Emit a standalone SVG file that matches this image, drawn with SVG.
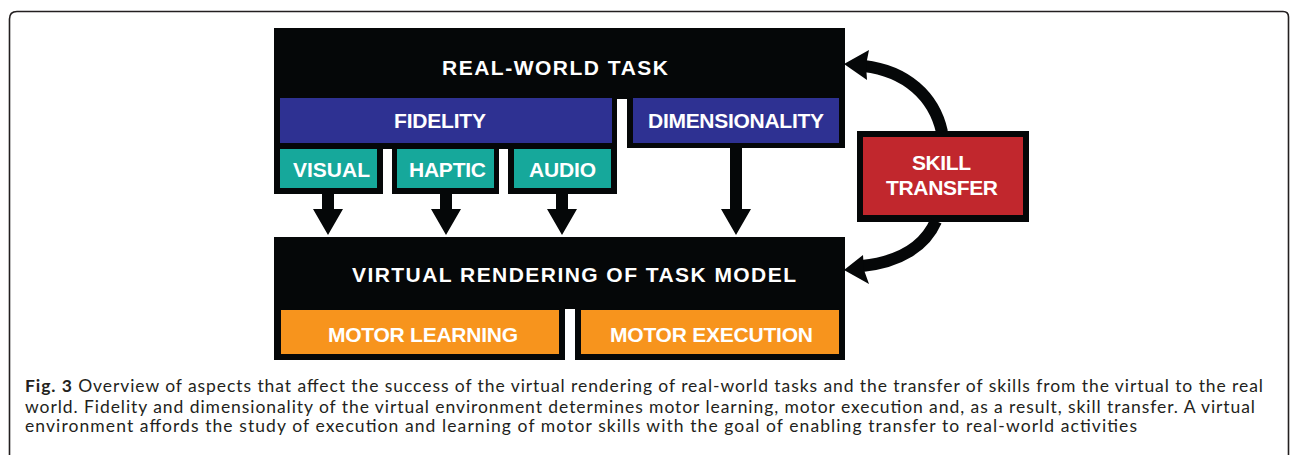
<svg xmlns="http://www.w3.org/2000/svg" width="1290" height="455" viewBox="0 0 1290 455">
  <style>
    .blk { fill: #050708; }
    .blue { fill: #2e3192; }
    .teal { fill: #16a89b; }
    .orange { fill: #f7941d; }
    .red { fill: #c1272d; }
    .lbl { font-family: "Liberation Sans", Arial, sans-serif; font-weight: bold; font-size: 21px; fill: #ffffff; }
    .cap { font-family: Lato, "Open Sans", "Liberation Sans", sans-serif; font-size: 17.5px; fill: #231f20; }
    .arrow { fill: #050708; }
    .curve { fill: none; stroke: #050708; stroke-width: 12; }
  </style>
  <rect width="1290" height="455" fill="#ffffff"/>
  <path d="M9.5,456 V19 Q9.5,11.5 17,11.5 H1283 Q1288.5,11.5 1288.5,17 V456" fill="none" stroke="#231f20" stroke-width="1.6"/>

  <g id="real-world-task">
    <rect class="blk" x="274" y="28" width="571" height="71"/>
    <text class="lbl" x="442" y="75" textLength="226" lengthAdjust="spacing">REAL-WORLD TASK</text>
  </g>
  <g id="fidelity">
    <rect class="blk" x="274" y="98" width="343" height="51"/>
    <rect class="blue" x="280" y="98" width="332" height="45"/>
    <text class="lbl" x="394" y="128" textLength="92" lengthAdjust="spacing">FIDELITY</text>
  </g>
  <g id="dimensionality">
    <rect class="blk" x="627" y="98" width="218" height="50"/>
    <rect class="blue" x="633" y="98" width="206" height="45"/>
    <text class="lbl" x="648" y="128" textLength="176" lengthAdjust="spacing">DIMENSIONALITY</text>
  </g>
  <g id="visual">
    <rect class="blk" x="274" y="148" width="109" height="46"/>
    <rect class="teal" x="280" y="149" width="97" height="39"/>
    <text class="lbl" x="293" y="177" textLength="77" lengthAdjust="spacing">VISUAL</text>
  </g>
  <g id="haptic">
    <rect class="blk" x="392" y="148" width="107" height="46"/>
    <rect class="teal" x="397" y="149" width="97" height="39"/>
    <text class="lbl" x="409" y="177" textLength="77" lengthAdjust="spacing">HAPTIC</text>
  </g>
  <g id="audio">
    <rect class="blk" x="508" y="148" width="109" height="46"/>
    <rect class="teal" x="514" y="149" width="97" height="39"/>
    <text class="lbl" x="529" y="177" textLength="67" lengthAdjust="spacing">AUDIO</text>
  </g>
  <g id="virtual-rendering">
    <rect class="blk" x="274" y="237" width="571" height="72"/>
    <text class="lbl" x="352" y="282" textLength="444" lengthAdjust="spacing">VIRTUAL RENDERING OF TASK MODEL</text>
  </g>
  <g id="motor-learning">
    <rect class="blk" x="274" y="308" width="291" height="52"/>
    <rect class="orange" x="281" y="310" width="278" height="44"/>
    <text class="lbl" x="328" y="342" textLength="190" lengthAdjust="spacing">MOTOR LEARNING</text>
  </g>
  <g id="motor-execution">
    <rect class="blk" x="575" y="308" width="270" height="52"/>
    <rect class="orange" x="581" y="310" width="258" height="44"/>
    <text class="lbl" x="610" y="342" textLength="203" lengthAdjust="spacing">MOTOR EXECUTION</text>
  </g>
  <g id="skill-transfer">
    <rect class="blk" x="857" y="131" width="172" height="91"/>
    <rect class="red" x="863" y="137" width="160" height="78"/>
    <text class="lbl" x="912" y="170" textLength="59" lengthAdjust="spacing">SKILL</text>
    <text class="lbl" x="886" y="195" textLength="112" lengthAdjust="spacing">TRANSFER</text>
  </g>

  <g id="connectors">
    <polygon class="arrow" points="322,193 334,193 334,209 343,209 328,235 313,209 322,209"/>
    <polygon class="arrow" points="440,193 452,193 452,209 461,209 446,235 431,209 440,209"/>
    <polygon class="arrow" points="556,193 568,193 568,209 577,209 562,235 547,209 556,209"/>
    <polygon class="arrow" points="730,147 742,147 742,209 751,209 736,235 721,209 730,209"/>
    <path class="curve" d="M942,132 C934,96 906,71 864,66"/>
    <polygon class="arrow" points="844,64 869,50 866,65 867,80"/>
    <path class="curve" d="M936,221 C925,246 900,262 862,266"/>
    <polygon class="arrow" points="844,270 863,255 864,270 869,284"/>
  </g>

  <g id="caption">
    <text class="cap" x="25" y="392" textLength="1238" lengthAdjust="spacing"><tspan font-weight="bold">Fig. 3</tspan> Overview of aspects that affect the success of the virtual rendering of real-world tasks and the transfer of skills from the virtual to the real</text>
    <text class="cap" x="25" y="413" textLength="1230" lengthAdjust="spacing">world. Fidelity and dimensionality of the virtual environment determines motor learning, motor execution and, as a result, skill transfer. A virtual</text>
    <text class="cap" x="25" y="432" textLength="1112" lengthAdjust="spacing">environment affords the study of execution and learning of motor skills with the goal of enabling transfer to real-world activities</text>
  </g>
</svg>
